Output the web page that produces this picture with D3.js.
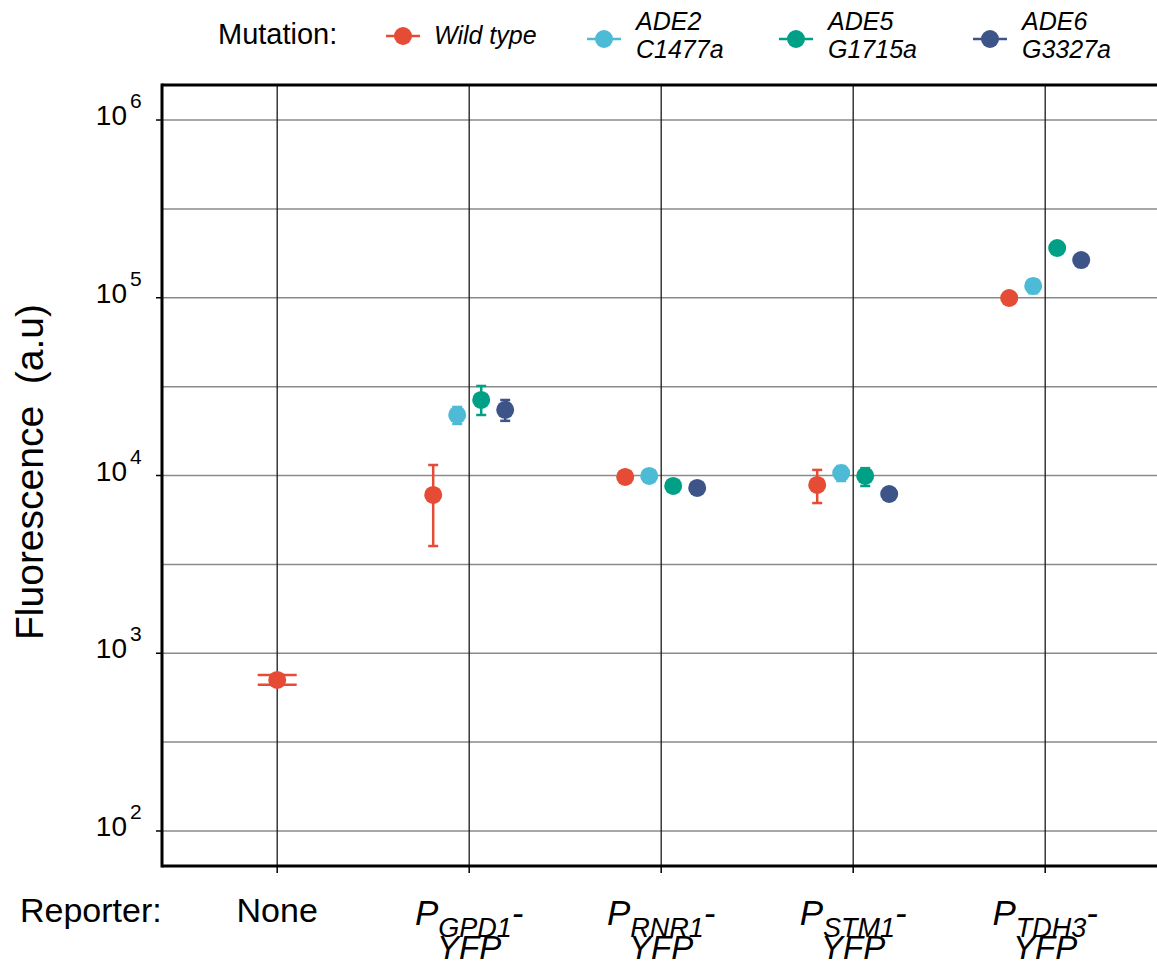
<!DOCTYPE html>
<html>
<head>
<meta charset="utf-8">
<script src="https://cdn.jsdelivr.net/npm/d3@7"></script>
<style>
  html, body { margin: 0; padding: 0; background: #fff; }
  svg { display: block; }
  text { font-family: "Liberation Sans", Arial, sans-serif; fill: #000; }
</style>
</head>
<body>
<svg id="chart" width="1157" height="966"></svg>
<script>
// ---- data ----
const categories = ["None", "GPD1", "RNR1", "STM1", "TDH3"];
const seriesNames = ["Wild type", "ADE2 C1477a", "ADE5 G1715a", "ADE6 G3327a"];
const seriesColors = ["#E64B35", "#4DBBD5", "#00A087", "#3C5488"];
const legendLines = [["Wild type"], ["ADE2", "C1477a"], ["ADE5", "G1715a"], ["ADE6", "G3327a"]];
const yTickValues = [1e2, 1e3, 1e4, 1e5, 1e6];
const yTickExponents = ["2", "3", "4", "5", "6"];
const yGridValues = [1e2, 316.2, 1e3, 3162, 1e4, 31623, 1e5, 316228, 1e6];

// mean values per series (null = not measured)
const wildType = [708, 7770, 9810, 8850, 99700];
const ade2     = [null, 21900, 9940, 10330, 116500];
const ade5     = [null, 26600, 8730, 9940, 190500];
const ade6     = [null, 23400, 8510, 7870, 163000];
// error bar bounds
const wildTypeLo = [664, 4010, 9550, 7000, 97000];
const wildTypeHi = [755, 11460, 10100, 10750, 102500];
const ade2Lo     = [null, 19500, 9700, 9310, 106000];
const ade2Hi     = [null, 24300, 10200, 11300, 127000];
const ade5Lo     = [null, 21900, 8500, 8730, 186000];
const ade5Hi     = [null, 31900, 8950, 11000, 195000];
const ade6Lo     = [null, 20300, 8300, 7700, 159000];
const ade6Hi     = [null, 26600, 8700, 8050, 167000];

const means = [wildType, ade2, ade5, ade6];
const lows = [wildTypeLo, ade2Lo, ade5Lo, ade6Lo];
const highs = [wildTypeHi, ade2Hi, ade5Hi, ade6Hi];

// ---- layout ----
const svg = d3.select("#chart");
const plot = { left: 162, top: 85, bottom: 866, right: 1160.4 };

const x = d3.scalePoint().domain(categories).range([plot.left, plot.right]).padding(0.6);
const y = d3.scaleLog().domain([Math.pow(10, 1.803), Math.pow(10, 6.197)]).range([plot.bottom, plot.top]);

// horizontal grid
svg.append("g").selectAll("line").data(yGridValues).join("line")
  .attr("x1", plot.left).attr("x2", plot.right)
  .attr("y1", d => y(d)).attr("y2", d => y(d))
  .attr("stroke", "#8a8a8a").attr("stroke-width", 1.5);

// vertical grid
svg.append("g").selectAll("line").data(categories).join("line")
  .attr("x1", d => x(d)).attr("x2", d => x(d))
  .attr("y1", plot.top).attr("y2", plot.bottom)
  .attr("stroke", "#1a1a1a").attr("stroke-width", 1.3);

// build points
const points = [];
categories.forEach((c, ci) => {
  const present = means.map((m, si) => m[ci] != null ? si : -1).filter(s => s >= 0);
  const n = present.length;
  present.forEach((si, k) => {
    const dodgeStep = 24;
    const off = (k - (n - 1) / 2) * dodgeStep;
    points.push({
      cat: c, series: si, cx: x(c) + off,
      v: means[si][ci], lo: lows[si][ci], hi: highs[si][ci],
      capW: n === 1 ? 39 : 10
    });
  });
});

// error bars
const eb = svg.append("g").selectAll("g").data(points).join("g")
  .attr("stroke", d => seriesColors[d.series]).attr("stroke-width", 2.5);
eb.append("line").attr("x1", d => d.cx).attr("x2", d => d.cx)
  .attr("y1", d => y(d.lo)).attr("y2", d => y(d.hi));
eb.append("line").attr("x1", d => d.cx - d.capW / 2).attr("x2", d => d.cx + d.capW / 2)
  .attr("y1", d => y(d.lo)).attr("y2", d => y(d.lo));
eb.append("line").attr("x1", d => d.cx - d.capW / 2).attr("x2", d => d.cx + d.capW / 2)
  .attr("y1", d => y(d.hi)).attr("y2", d => y(d.hi));

// points
svg.append("g").selectAll("circle").data(points).join("circle")
  .attr("cx", d => d.cx).attr("cy", d => y(d.v)).attr("r", 9)
  .attr("fill", d => seriesColors[d.series]);

// panel border (left, top, bottom)
svg.append("line").attr("x1", plot.left).attr("x2", plot.left).attr("y1", plot.top - 1.5).attr("y2", plot.bottom + 1.5)
  .attr("stroke", "#000").attr("stroke-width", 3);
svg.append("line").attr("x1", plot.left).attr("x2", plot.right + 5).attr("y1", plot.top).attr("y2", plot.top)
  .attr("stroke", "#000").attr("stroke-width", 3);
svg.append("line").attr("x1", plot.left).attr("x2", plot.right + 5).attr("y1", plot.bottom).attr("y2", plot.bottom)
  .attr("stroke", "#000").attr("stroke-width", 3);

// y ticks
const yAxis = svg.append("g");
yAxis.selectAll("line").data(yTickValues).join("line")
  .attr("x1", plot.left - 6).attr("x2", plot.left)
  .attr("y1", d => y(d)).attr("y2", d => y(d))
  .attr("stroke", "#000").attr("stroke-width", 1.5);
const yl = yAxis.selectAll("g.lbl").data(yTickValues).join("g").attr("class", "lbl");
yl.append("text").attr("x", 127).attr("y", d => y(d) + 5)
  .attr("text-anchor", "end").style("font-size", "28px").text("10");
yl.append("text").attr("x", 130).attr("y", (d) => y(d) - 12)
  .style("font-size", "21px").text((d, i) => yTickExponents[i]);

// x ticks
svg.append("g").selectAll("line").data(categories).join("line")
  .attr("x1", d => x(d)).attr("x2", d => x(d))
  .attr("y1", plot.bottom).attr("y2", plot.bottom + 7)
  .attr("stroke", "#000").attr("stroke-width", 1.5);

// x labels
const xl = svg.append("g");
categories.forEach(c => {
  if (c === "None") {
    xl.append("text").attr("x", x(c)).attr("y", 922).attr("text-anchor", "middle")
      .style("font-size", "34px").text("None");
  } else {
    const t = xl.append("text").attr("x", x(c)).attr("y", 925).attr("text-anchor", "middle")
      .style("font-size", "35px").style("font-style", "italic");
    t.append("tspan").text("P");
    t.append("tspan").attr("dy", 12).style("font-size", "27px").text(c);
    t.append("tspan").attr("dy", -12).text("-");
    xl.append("text").attr("x", x(c)).attr("y", 959).attr("text-anchor", "middle")
      .style("font-size", "33px").style("font-style", "italic").text("YFP");
  }
});
svg.append("text").attr("x", 20).attr("y", 922).style("font-size", "34px").text("Reporter:");

// y title
svg.append("text").attr("transform", "translate(43,472) rotate(-90)")
  .attr("text-anchor", "middle").style("font-size", "39px").style("white-space", "pre")
  .text("Fluorescence  (a.u)");

// legend
svg.append("text").attr("x", 218).attr("y", 44).style("font-size", "29px").text("Mutation:");
const legendX = [403, 604, 796, 990];
const lg = svg.append("g").selectAll("g").data(seriesNames).join("g");
lg.each(function(d, i) {
  const g = d3.select(this);
  const lines = legendLines[i];
  const cy = lines.length === 1 ? 36 : 39;
  g.append("line").attr("x1", legendX[i] - 17).attr("x2", legendX[i] + 17)
    .attr("y1", cy).attr("y2", cy).attr("stroke", seriesColors[i]).attr("stroke-width", 2.5);
  g.append("circle").attr("cx", legendX[i]).attr("cy", cy).attr("r", 9).attr("fill", seriesColors[i]);
  const t = g.append("text").attr("x", legendX[i] + 31).style("font-size", "25px").style("font-style", "italic");
  if (lines.length === 1) {
    t.attr("y", 44).text(lines[0]);
  } else {
    t.attr("y", 30);
    t.append("tspan").attr("x", legendX[i] + 32).text(lines[0]);
    t.append("tspan").attr("x", legendX[i] + 32).attr("dy", 28).text(lines[1]);
  }
});
</script>
</body>
</html>
